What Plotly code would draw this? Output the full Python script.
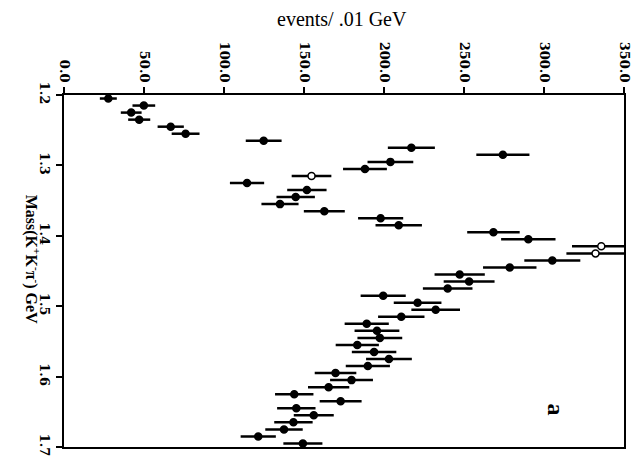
import plotly.graph_objects as go

# Mass bin centres (GeV), 0.01 GeV bins from 1.20 to 1.70
mass = [round(1.205 + 0.01 * i, 3) for i in range(50)]

events = [27.7, 49.9, 42.0, 47.0, 66.7, 76.0, 124.8, 217.1, 274.3, 204.0,
          188.1, 154.7, 114.4, 151.8, 144.8, 135.0, 162.7, 197.9, 209.2, 268.4,
          290.2, 335.8, 332.2, 305.2, 278.6, 247.3, 253.2, 239.8, 199.5, 221.0,
          232.3, 210.8, 189.2, 195.6, 197.4, 183.3, 193.8, 203.1, 189.9, 169.7,
          179.7, 165.4, 143.9, 172.9, 145.2, 156.1, 143.4, 137.5, 121.4, 149.3]

errors = [5.3, 7.1, 6.5, 6.9, 8.2, 8.7, 11.2, 14.7, 16.6, 14.3,
          13.7, 12.4, 10.7, 12.3, 12.0, 11.6, 12.8, 14.1, 14.5, 16.4,
          17.0, 18.3, 18.2, 17.5, 16.7, 15.7, 15.9, 15.5, 14.1, 14.9,
          15.2, 14.5, 13.8, 14.0, 14.0, 13.5, 13.9, 14.3, 13.8, 13.0,
          13.4, 12.9, 12.0, 13.1, 12.0, 12.5, 12.0, 11.7, 11.0, 12.2]

open_points = [11, 21, 22]  # indices drawn as open circles

x_ticks = [0, 50, 100, 150, 200, 250, 300, 350]
x_ticktext = ["0.0", "50.0", "100.0", "150.0", "200.0", "250.0", "300.0", "350.0"]
y_ticks = [1.2, 1.3, 1.4, 1.5, 1.6, 1.7]
y_ticktext = ["1.2", "1.3", "1.4", "1.5", "1.6", "1.7"]

fill_colors = ["white" if i in open_points else "black" for i in range(len(events))]

fig = go.Figure()
fig.add_trace(go.Scatter(
    x=events, y=mass, mode="markers",
    marker=dict(size=7, color=fill_colors, line=dict(color="black", width=1.5)),
    error_x=dict(type="data", array=errors, visible=True, color="black",
                 thickness=2.5, width=0),
    cliponaxis=False,
    showlegend=False,
))

font_serif = "DejaVu Serif"

fig.update_layout(
    width=644, height=468,
    margin=dict(l=64, r=13, t=95, b=17),
    paper_bgcolor="white", plot_bgcolor="white",
    xaxis=dict(
        side="top", range=[0, 350], tickvals=x_ticks, ticktext=x_ticktext,
        tickangle=90, ticks="outside", ticklen=6, tickwidth=1.5, tickcolor="black",
        showline=True, linecolor="black", linewidth=2, mirror=True,
        showgrid=False, zeroline=False,
        tickfont=dict(family=font_serif, size=13, color="black", weight="bold"),
    ),
    yaxis=dict(
        range=[1.7, 1.2], tickvals=y_ticks, ticktext=y_ticktext,
        tickangle=90, ticks="outside", ticklen=6, tickwidth=1.5, tickcolor="black",
        showline=True, linecolor="black", linewidth=2, mirror=True,
        showgrid=False, zeroline=False,
        tickfont=dict(family=font_serif, size=13, color="black", weight="bold"),
    ),
    annotations=[
        dict(text="events/ .01 GeV", xref="paper", yref="paper",
             x=(345 - 64) / 567, y=(451 - 18) / 356, xanchor="center", yanchor="middle",
             showarrow=False, font=dict(family="Liberation Serif", size=20, color="black")),
        dict(text="Mass(K<sup>+</sup>K<sup>-</sup>π<sup>-</sup>) GeV",
             xref="paper", yref="paper",
             x=(32 - 64) / 567, y=(451 - 261) / 356, xanchor="center", yanchor="middle",
             textangle=90, showarrow=False,
             font=dict(family="Liberation Serif", size=16, color="black", weight="bold")),
        dict(text="a", xref="paper", yref="paper",
             x=(562 - 64) / 567, y=(451 - 413) / 356, xanchor="center", yanchor="middle",
             textangle=90, showarrow=False,
             font=dict(family="Liberation Serif", size=24, color="black", weight="bold")),
    ],
)

fig.write_html("out.html")
